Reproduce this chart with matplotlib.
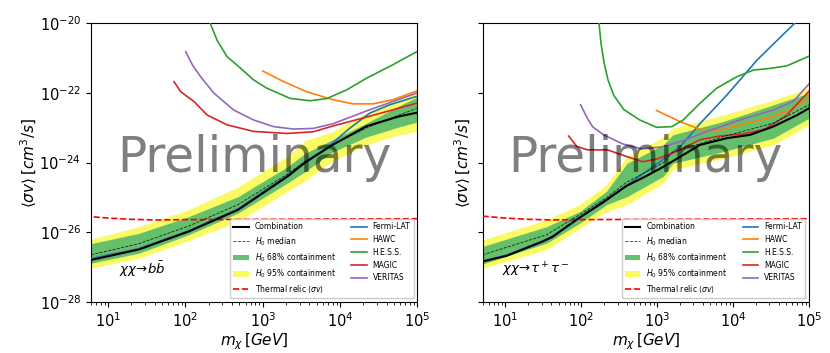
import matplotlib
matplotlib.use("Agg")
import matplotlib.pyplot as plt
from matplotlib.ticker import NullLocator

# ---- b bbar channel ----
bb_band_mass = [6, 25, 110, 480, 2100, 3500, 8000, 22000, 58000, 100000]
bb_y95_hi = [6.3e-27, 1.45e-26, 4.4e-26, 2.0e-25, 1.5e-24, 4.2e-24, 7.8e-24, 2.6e-23, 7.6e-23, 1.1e-22]
bb_y68_hi = [4.7e-27, 9.3e-27, 2.8e-26, 1.05e-25, 7.6e-25, 1.8e-24, 4.5e-24, 1.35e-23, 4.2e-23, 7.6e-23]
bb_y68_lo = [1.3e-27, 2.5e-27, 8.5e-27, 3.55e-26, 2.6e-25, 5.4e-25, 2.0e-24, 5.4e-24, 1.05e-23, 1.45e-23]
bb_y95_lo = [9.3e-28, 1.8e-27, 5.75e-27, 2.05e-26, 1.5e-25, 2.95e-25, 1.1e-24, 3.2e-24, 6.2e-24, 7.8e-24]
bb_median = [2.25e-27, 4.7e-27, 1.5e-26, 6.2e-26, 4.7e-25, 1.05e-24, 3.2e-24, 9.8e-24, 2.3e-23, 3.6e-23]
bb_comb = [1.6e-27, 3.2e-27, 1.05e-26, 4.4e-26, 4.0e-25, 9.8e-25, 3.2e-24, 1.1e-23, 2.1e-23, 2.7e-23]

bb_fermi_mass = [6, 25, 110, 480, 2100, 3500, 6700, 13300, 24200, 43600, 97000]
bb_fermi = [1.75e-27, 3.4e-27, 1.1e-26, 4.7e-26, 4.3e-25, 1.05e-24, 2.6e-24, 9.5e-24, 2.6e-23, 4.5e-23, 7.8e-23]
bb_hawc_mass = [1000, 1850, 3700, 8150, 14700, 26600, 47900, 97700]
bb_hawc = [4.2e-22, 2.1e-22, 1.07e-22, 6.3e-23, 4.8e-23, 4.8e-23, 6.3e-23, 1.12e-22]
bb_hess_mass = [200, 257, 347, 466, 759, 1130, 2260, 4080, 6700, 12100, 21900, 47900, 97700]
bb_hess = [1.26e-20, 3.2e-21, 1.07e-21, 6.2e-22, 2.35e-22, 1.35e-22, 6.9e-23, 5.9e-23, 6.8e-23,
           1.2e-22, 2.6e-22, 6.3e-22, 1.5e-21]
bb_magic_mass = [71, 87, 129, 191, 347, 759, 2050, 4500, 8150, 21900, 97700]
bb_magic = [2.1e-22, 1.07e-22, 5.6e-23, 2.3e-23, 1.2e-23, 7.8e-24, 6.8e-24, 7.6e-24, 1.12e-23, 2.0e-23, 5.0e-23]
bb_veritas_mass = [101, 123, 157, 233, 421, 759, 1380, 2490, 4500, 8150, 21900, 97700]
bb_veritas = [1.5e-21, 6.3e-22, 2.9e-22, 9.8e-23, 3.2e-23, 1.66e-23, 1.07e-23, 9.1e-24, 9.5e-24,
              1.3e-23, 3.0e-23, 9.8e-23]

# ---- tau tau channel ----
tt_band_mass = [5, 35, 95, 215, 400, 1200, 1600, 7400, 34000, 100000]
tt_y95_hi = [6.0e-27, 2.3e-26, 6.2e-26, 2.3e-25, 1.45e-24, 5.4e-24, 9.5e-24, 2.3e-23, 6.2e-23, 1.35e-22]
tt_y68_hi = [3.9e-27, 1.45e-26, 3.9e-26, 1.5e-25, 9.5e-25, 3.2e-24, 6.2e-24, 1.5e-23, 4.5e-23, 9.8e-23]
tt_y68_lo = [1.23e-27, 4.9e-27, 1.8e-26, 6.2e-26, 1.05e-25, 4.0e-25, 9.5e-25, 2.05e-24, 5.0e-24, 1.86e-23]
tt_y95_lo = [9.3e-28, 3.2e-27, 1.3e-26, 3.9e-26, 6.2e-26, 2.6e-25, 6.2e-25, 1.3e-24, 3.2e-24, 1.2e-23]
tt_median = [2.25e-27, 8.5e-27, 3.2e-26, 9.8e-26, 2.75e-25, 9.8e-25, 2.0e-24, 5.5e-24, 1.35e-23, 4.5e-23]

tt_comb_mass = [5, 10.3, 30.8, 41.8, 86.7, 197, 396, 686, 1190, 1990, 3660, 8320, 16700, 33700, 70000, 100000]
tt_comb = [1.45e-27, 2.1e-27, 5.4e-27, 7.4e-27, 2.3e-26, 7.4e-26, 2.15e-25, 3.9e-25, 7.4e-25, 1.45e-24,
           3.2e-24, 5.0e-24, 6.2e-24, 1.07e-23, 2.3e-23, 3.6e-23]

tt_fermi_mass = [5, 10.3, 30.8, 41.8, 86.7, 197, 396, 990, 1990, 3660, 8320, 20700, 65800, 100000]
tt_fermi = [1.5e-27, 2.2e-27, 5.6e-27, 7.8e-27, 2.4e-26, 7.8e-26, 2.2e-25, 9.1e-25, 2.8e-24, 1.3e-23,
            8.7e-23, 8.7e-22, 1.02e-20, 2.5e-20]
tt_hawc_mass = [980, 1990, 3660, 6710, 12300, 27800, 56500, 98400]
tt_hawc = [3.1e-23, 1.5e-23, 8.9e-24, 8.5e-24, 1.2e-23, 1.86e-23, 3.2e-23, 7.1e-23]
tt_hess_mass = [169, 182, 200, 225, 267, 362, 589, 980, 1560, 2200, 3660, 6070, 11200, 18500, 30700, 51000, 100000]
tt_hess = [1.26e-20, 2.5e-21, 7.0e-22, 2.3e-22, 8.5e-23, 3.3e-23, 1.66e-23, 1.02e-23, 1.07e-23, 1.66e-23,
           5.0e-23, 1.35e-22, 2.88e-22, 4.47e-22, 5.0e-22, 5.9e-22, 1.12e-21]
tt_magic_mass = [68, 87, 121, 222, 396, 646, 990, 1870, 3660, 6710, 13500, 26400, 50000, 100000]
tt_magic = [5.75e-24, 2.9e-24, 2.3e-24, 2.3e-24, 1.48e-24, 1.05e-24, 1.26e-24, 2.15e-24, 4.5e-24,
            5.75e-24, 6.6e-24, 9.1e-24, 2.2e-23, 1.1e-22]
tt_veritas_mass = [98, 117, 141, 197, 352, 627, 1150, 2180, 4520, 12300, 33700, 61800, 100000]
tt_veritas = [4.5e-23, 2.05e-23, 1.05e-23, 6.2e-24, 3.4e-24, 2.45e-24, 2.8e-24, 4.2e-24, 7.8e-24,
              1.66e-23, 3.2e-23, 5.6e-23, 1.78e-22]

# thermal relic cross section
relic_mass = [5, 6, 10, 20, 40, 100, 1000, 10000, 100000]
relic_sv = [2.9e-26, 2.8e-26, 2.55e-26, 2.35e-26, 2.25e-26, 2.3e-26, 2.35e-26, 2.4e-26, 2.45e-26]

y_ticks = [1e-28, 1e-26, 1e-24, 1e-22, 1e-20]

panels = [
    dict(xmin=6, label=r"$\chi\chi\!\rightarrow\!b\bar{b}$", tx=0.085,
         band_m=bb_band_mass, y95=(bb_y95_lo, bb_y95_hi), y68=(bb_y68_lo, bb_y68_hi), med=bb_median,
         comb_m=bb_band_mass, comb=bb_comb,
         exps=[(bb_fermi_mass, bb_fermi), (bb_hawc_mass, bb_hawc), (bb_hess_mass, bb_hess),
               (bb_magic_mass, bb_magic), (bb_veritas_mass, bb_veritas)]),
    dict(xmin=5, label=r"$\chi\chi\!\rightarrow\!\tau^+\tau^-$", tx=0.06,
         band_m=tt_band_mass, y95=(tt_y95_lo, tt_y95_hi), y68=(tt_y68_lo, tt_y68_hi), med=tt_median,
         comb_m=tt_comb_mass, comb=tt_comb,
         exps=[(tt_fermi_mass, tt_fermi), (tt_hawc_mass, tt_hawc), (tt_hess_mass, tt_hess),
               (tt_magic_mass, tt_magic), (tt_veritas_mass, tt_veritas)]),
]
exp_names = ["Fermi-LAT", "HAWC", "H.E.S.S.", "MAGIC", "VERITAS"]
exp_colors = ["tab:blue", "tab:orange", "tab:green", "tab:red", "tab:purple"]

fig = plt.figure(figsize=(8.3, 3.53), dpi=100)
axes = fig.subplots(1, 2)
fig.subplots_adjust(left=0.1096, right=0.9747, bottom=0.1445, top=0.9348, wspace=0.2)

for i, (ax, p) in enumerate(zip(axes, panels)):
    ax.set_xscale("log")
    ax.set_yscale("log")
    h_comb, = ax.plot(p["comb_m"], p["comb"], color="k", lw=1.5, zorder=5, label="Combination")
    h_med, = ax.plot(p["band_m"], p["med"], color="k", ls="--", lw=0.6, alpha=0.8, zorder=4,
                     label=r"$H_0$ median")
    h68 = ax.fill_between(p["band_m"], *p["y68"], color="#66bf6a", lw=0, zorder=2,
                          label=r"$H_0$ 68% containment")
    h95 = ax.fill_between(p["band_m"], *p["y95"], color="#fafa64", lw=0, zorder=1,
                          label=r"$H_0$ 95% containment")
    h_relic, = ax.plot(relic_mass, relic_sv, color="red", ls="--", lw=1.2, zorder=3,
                       label=r"Thermal relic $\langle\sigma v\rangle$")
    h_exps = []
    for (m, sv), name, c in zip(p["exps"], exp_names, exp_colors):
        h, = ax.plot(m, sv, color=c, lw=1.2, zorder=3, label=name)
        h_exps.append(h)

    ax.set_xlim(p["xmin"], 1e5)
    ax.set_ylim(1e-28, 1e-20)
    ax.set_yticks(y_ticks)
    ax.yaxis.set_minor_locator(NullLocator())
    if i == 1:
        ax.set_yticklabels([])
    ax.tick_params(labelsize=10.5)
    ax.set_xlabel(r"$m_{\chi}\,[GeV]$", fontsize=11, labelpad=1)
    ax.set_ylabel(r"$\langle\sigma v\rangle\,[cm^3/s]$", fontsize=11, labelpad=0)

    ax.text(0.5, 0.466, "Preliminary", transform=ax.transAxes, ha="center", va="baseline",
            fontsize=35, color="k", alpha=0.5, zorder=10)
    ax.text(p["tx"], 0.1, p["label"], transform=ax.transAxes, fontsize=9.5, zorder=10)

    handles = [h_comb, h_med, h68, h95, h_relic] + h_exps
    ax.legend(handles=handles, ncol=2, loc="lower right", fontsize=5.5, framealpha=1)

fig.savefig("out.png", dpi=100)
